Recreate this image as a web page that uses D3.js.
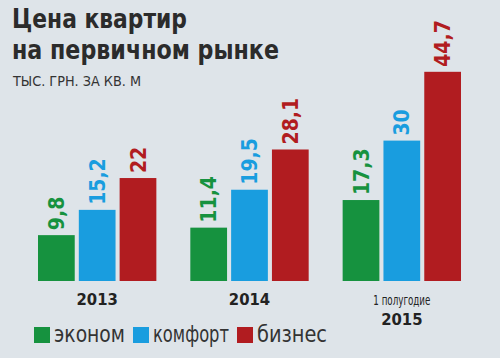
<!DOCTYPE html>
<html><head><meta charset="utf-8">
<script src="https://cdn.jsdelivr.net/npm/d3@7/dist/d3.min.js"></script>
<style>
html,body{margin:0;padding:0;background:#dee4e9;}
svg{display:block;}
text{font-family:"DejaVu Sans Condensed","DejaVu Sans",sans-serif;font-stretch:condensed;}
</style></head>
<body><svg id="chart" width="500" height="358"></svg>
<script>
const titleLines = ["Цена квартир", "на первичном рынке"];
const subtitle = "ТЫС. ГРН. ЗА КВ. М";
const categories = ["2013", "2014", "2015"];
const categoryPrefix = ["", "", "1 полугодие"];
const seriesNames = ["эконом", "комфорт", "бизнес"];
const seriesColors = ["#16923f", "#199ddf", "#b11c20"];
const econom = [9.8, 11.4, 17.3];
const comfort = [15.2, 19.5, 30];
const business = [22, 28.1, 44.7];
const seriesValues = [econom, comfort, business];

const svg = d3.select("#chart");
svg.append("rect").attr("width", 500).attr("height", 358).attr("fill", "#dee4e9");

// Title (two lines; widths fitted to the reference layout)
const titleWidths = [175, 267];
svg.append("g").selectAll("text").data(titleLines).join("text")
  .attr("x", 12).attr("y", (d, i) => 28 + i * 31)
  .attr("font-size", 26.5).attr("font-weight", "bold").attr("fill", "#2b2b2b")
  .attr("textLength", (d, i) => titleWidths[i]).attr("lengthAdjust", "spacingAndGlyphs")
  .text(d => d);
svg.append("text").attr("x", 13).attr("y", 86)
  .attr("font-size", 14).attr("fill", "#333")
  .attr("textLength", 128).attr("lengthAdjust", "spacingAndGlyphs").text(subtitle);

const baseY = 281;
const x0 = d3.scaleBand().domain(categories).range([38, 461]).paddingInner(0.223).paddingOuter(0);
const x1 = d3.scaleBand().domain(seriesNames).range([0, x0.bandwidth()]).paddingInner(0.1);
const y = d3.scaleLinear().domain([0, 50]).range([baseY, baseY - 234]);

const rows = [];
categories.forEach((c, ci) => seriesNames.forEach((s, si) => rows.push({c, s, si, v: seriesValues[si][ci]})));

const g = svg.append("g");
g.selectAll("rect.bar").data(rows).join("rect").attr("class", "bar")
  .attr("x", d => x0(d.c) + x1(d.s))
  .attr("y", d => y(d.v))
  .attr("width", x1.bandwidth())
  .attr("height", d => y(0) - y(d.v))
  .attr("fill", d => seriesColors[d.si]);

const fmt = v => String(v).replace(".", ",");
g.selectAll("text.val").data(rows).join("text").attr("class", "val")
  .attr("transform", d => `translate(${x0(d.c) + x1(d.s) + x1.bandwidth() / 2},${y(d.v) - 5}) rotate(-90)`)
  .attr("dy", "0.36em")
  .attr("font-size", 21).attr("font-weight", "bold")
  .attr("fill", d => seriesColors[d.si])
  .text(d => fmt(d.v));

// Category labels
const xAxis = d3.axisBottom(x0).tickSize(0).tickPadding(0);
const ax = svg.append("g").attr("transform", `translate(0,${baseY})`).call(xAxis);
ax.select(".domain").remove();
ax.selectAll(".tick text").remove();
ax.selectAll(".tick").each(function(d, i) {
  const t = d3.select(this);
  if (categoryPrefix[i]) {
    t.append("text").attr("y", 24).attr("text-anchor", "middle")
      .attr("font-size", 14).attr("fill", "#222")
      .attr("textLength", 57).attr("lengthAdjust", "spacingAndGlyphs")
      .text(categoryPrefix[i]);
    t.append("text").attr("y", 44).attr("text-anchor", "middle")
      .attr("font-size", 16.5).attr("font-weight", "bold").attr("fill", "#222").text(d);
  } else {
    t.append("text").attr("y", 24).attr("text-anchor", "middle")
      .attr("font-size", 16.5).attr("font-weight", "bold").attr("fill", "#222").text(d);
  }
});

// Legend
const legendTextWidths = [71, 76, 70];
const legend = svg.append("g").attr("transform", "translate(34,327)");
let lx = 0;
seriesNames.forEach((s, i) => {
  const item = legend.append("g").attr("transform", `translate(${lx},0)`);
  item.append("rect").attr("width", 16).attr("height", 16).attr("fill", seriesColors[i]);
  item.append("text").attr("x", 20).attr("y", 14.5)
    .attr("font-size", 23).attr("fill", "#333")
    .attr("textLength", legendTextWidths[i]).attr("lengthAdjust", "spacingAndGlyphs").text(s);
  lx += 20 + legendTextWidths[i] + 8;
});
</script></body></html>
